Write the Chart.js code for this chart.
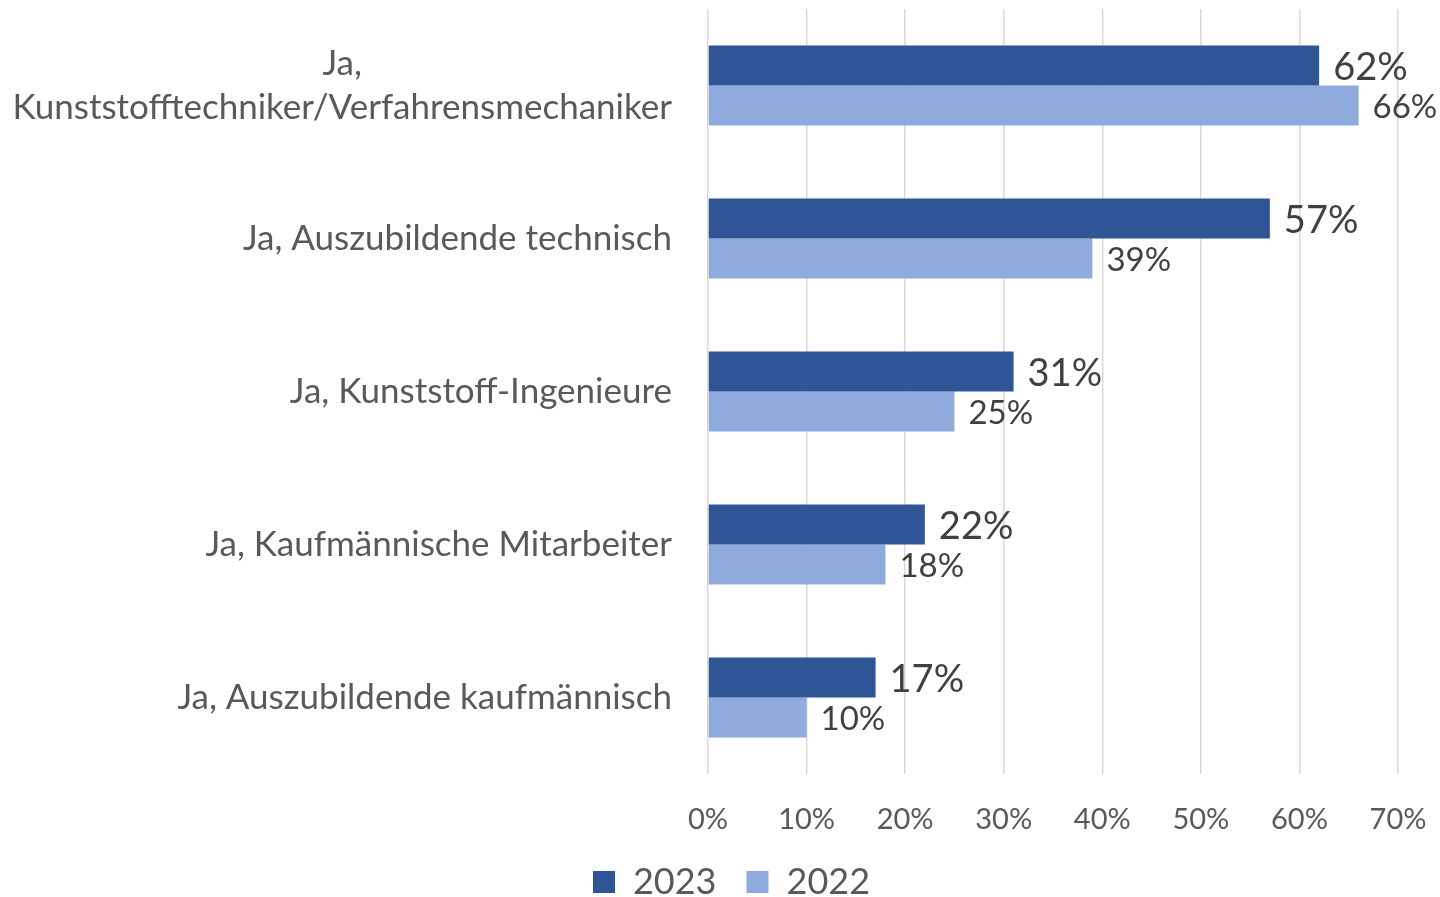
<!DOCTYPE html>
<html lang="de">
<head>
    <meta charset="UTF-8">
    <title>Bar Chart</title>
    <script src="https://cdn.jsdelivr.net/npm/chart.js"></script>
    <style>
        html, body { margin: 0; padding: 0; background: #fff; }
        #wrap { width: 1440px; height: 897px; }
    </style>
</head>
<body>
    <div id="wrap"><canvas id="barChart"></canvas></div>

    <script>
        const categories = [
            ['Ja,', 'Kunststofftechniker/Verfahrensmechaniker'],
            'Ja, Auszubildende technisch',
            'Ja, Kunststoff-Ingenieure',
            'Ja, Kaufmännische Mitarbeiter',
            'Ja, Auszubildende kaufmännisch'
        ];
        const values2023 = [62, 57, 31, 22, 17];
        const values2022 = [66, 39, 25, 18, 10];
        const xTicks = [0, 10, 20, 30, 40, 50, 60, 70];

        const FONT = 'Lato, "Open Sans", sans-serif';

        // category labels: right aligned, multi-line labels centred on their widest line
        const categoryLabels = {
            id: 'categoryLabels',
            afterDraw(chart) {
                const ctx = chart.ctx;
                const y = chart.scales.y;
                const right = chart.chartArea.left - 36;
                ctx.save();
                ctx.font = '35px ' + FONT;
                ctx.fillStyle = '#595959';
                ctx.textAlign = 'center';
                ctx.textBaseline = 'middle';
                const lh = 44;
                categories.forEach((lab, i) => {
                    const lines = Array.isArray(lab) ? lab : [lab];
                    const w = Math.max(...lines.map(l => ctx.measureText(l).width));
                    const cy = y.getPixelForTick(i);
                    lines.forEach((l, j) => {
                        ctx.fillText(l, right - w / 2, cy + (j - (lines.length - 1) / 2) * lh);
                    });
                });
                ctx.restore();
            }
        };

        // value labels at bar ends
        const valueLabels = {
            id: 'valueLabels',
            afterDatasetsDraw(chart) {
                const ctx = chart.ctx;
                ctx.save();
                ctx.fillStyle = '#404040';
                ctx.textAlign = 'left';
                ctx.textBaseline = 'middle';
                chart.data.datasets.forEach((ds, di) => {
                    ctx.font = (di === 0 ? '38px ' : '33px ') + FONT;
                    chart.getDatasetMeta(di).data.forEach((bar, i) => {
                        ctx.fillText(ds.data[i] + '%', bar.x + 14, bar.y + 2);
                    });
                });
                ctx.restore();
            }
        };

        new Chart(document.getElementById('barChart'), {
            type: 'bar',
            data: {
                labels: categories,
                datasets: [{
                    label: '2023',
                    data: values2023,
                    backgroundColor: '#2F5597',
                    borderWidth: 0
                }, {
                    label: '2022',
                    data: values2022,
                    backgroundColor: '#8FAADC',
                    borderWidth: 0
                }]
            },
            options: {
                indexAxis: 'y',
                responsive: true,
                maintainAspectRatio: false,
                animation: false,
                layout: { padding: { top: 9, right: 42, left: 65, bottom: -13 } },
                datasets: {
                    bar: { categoryPercentage: 0.524, barPercentage: 1 }
                },
                scales: {
                    x: {
                        min: 0,
                        max: 70,
                        afterBuildTicks: (scale) => { scale.ticks = xTicks.map(v => ({ value: v })); },
                        afterFit: (scale) => {
                            scale.height = 60;
                            scale.paddingLeft = 0;
                            scale.paddingRight = 0;
                        },
                        grid: { color: '#d9d9d9', lineWidth: 1.5, drawTicks: false },
                        border: { display: false },
                        ticks: {
                            color: '#595959',
                            font: { family: FONT, size: 29 },
                            padding: 28,
                            callback: v => v + '%'
                        }
                    },
                    y: {
                        afterFit: (scale) => { scale.width = 643; },
                        grid: { display: false },
                        border: { display: false },
                        ticks: { display: false }
                    }
                },
                plugins: {
                    legend: {
                        position: 'bottom',
                        labels: {
                            color: '#595959',
                            font: { family: FONT, size: 36 },
                            boxWidth: 22,
                            boxHeight: 22,
                            padding: 30
                        }
                    },
                    tooltip: { enabled: false }
                }
            },
            plugins: [categoryLabels, valueLabels]
        });
    </script>
</body>
</html>
